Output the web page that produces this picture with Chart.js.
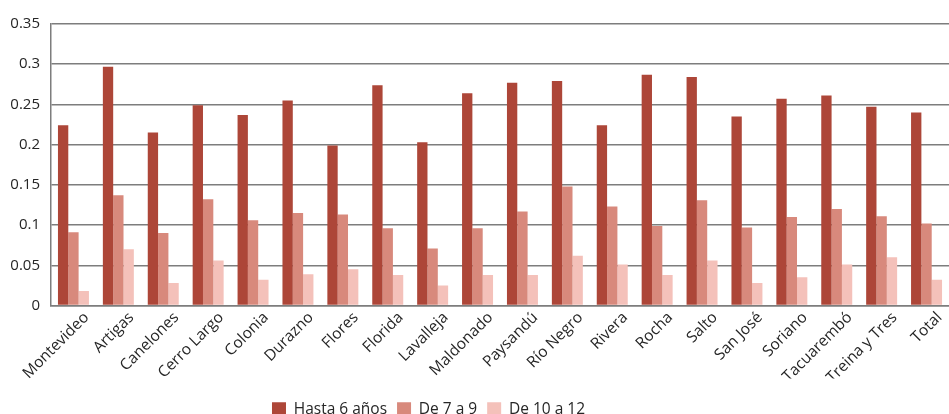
<!DOCTYPE html>
<html>
<head>
<meta charset="utf-8">
<script src="https://cdn.jsdelivr.net/npm/chart.js@4/dist/chart.umd.min.js"></script>
<style>
  html, body { margin: 0; padding: 0; background: #fff; }
  #wrap { width: 949px; height: 414px; position: relative; }
</style>
</head>
<body>
<div id="wrap"><canvas id="chart"></canvas></div>
<script>
// departamentos
const categories = ['Montevideo', 'Artigas', 'Canelones', 'Cerro Largo', 'Colonia', 'Durazno',
  'Flores', 'Florida', 'Lavalleja', 'Maldonado', 'Paysandú', 'Río Negro', 'Rivera', 'Rocha',
  'Salto', 'San José', 'Soriano', 'Tacuarembó', 'Treina y Tres', 'Total'];

const hasta6 = [0.224, 0.297, 0.215, 0.249, 0.237, 0.255, 0.199, 0.274, 0.203, 0.264,
  0.277, 0.279, 0.224, 0.287, 0.284, 0.235, 0.257, 0.261, 0.247, 0.240];
const de7a9 = [0.091, 0.137, 0.090, 0.132, 0.106, 0.115, 0.113, 0.096, 0.071, 0.096,
  0.117, 0.148, 0.123, 0.099, 0.131, 0.097, 0.110, 0.120, 0.111, 0.102];
const de10a12 = [0.018, 0.070, 0.028, 0.056, 0.032, 0.039, 0.045, 0.038, 0.025, 0.038,
  0.038, 0.062, 0.051, 0.038, 0.056, 0.028, 0.035, 0.051, 0.060, 0.032];

const seriesNames = ['Hasta 6 años', 'De 7 a 9', 'De 10 a 12'];

const textColor = '#262626';
const gridColor = '#7d7d7d';
const family = "'Open Sans', 'Noto Sans', sans-serif";

// move the legend a bit left and down, like the original
const legendShift = {
  id: 'legendShift',
  afterLayout(chart) {
    const lg = chart.legend;
    if (!lg) return;
    lg.left -= 46; lg.right -= 46;
    lg.top += 13; lg.bottom += 13;
  }
};

new Chart(document.getElementById('chart'), {
  type: 'bar',
  data: {
    labels: categories,
    datasets: [
      { label: seriesNames[0], data: hasta6, backgroundColor: '#ad4638' },
      { label: seriesNames[1], data: de7a9, backgroundColor: '#d8897c' },
      { label: seriesNames[2], data: de10a12, backgroundColor: '#f4c1ba' }
    ]
  },
  options: {
    responsive: true,
    maintainAspectRatio: false,
    animation: false,
    layout: { padding: { top: 24, right: 0, left: 0, bottom: 0 } },
    datasets: {
      bar: { categoryPercentage: 0.69, barPercentage: 1.0 }
    },
    scales: {
      x: {
        grid: { display: false, drawTicks: false },
        border: { color: gridColor, width: 1.5 },
        ticks: {
          color: textColor,
          font: { family: family, size: 15.5 },
          minRotation: 45,
          maxRotation: 45,
          autoSkip: false,
          padding: 3,
          labelOffset: 13
        },
        afterFit: s => { s.height = 73; }
      },
      y: {
        min: 0,
        max: 0.35,
        grid: { color: gridColor, lineWidth: 1.5, drawTicks: false },
        border: { color: gridColor, width: 1.5 },
        ticks: {
          stepSize: 0.05,
          color: textColor,
          font: { family: family, size: 15 },
          padding: 11,
          callback: v => String(Math.round(v * 100) / 100)
        },
        afterFit: s => { s.width = 51; }
      }
    },
    plugins: {
      legend: {
        position: 'bottom',
        labels: {
          color: textColor,
          font: { family: family, size: 15.5 },
          boxWidth: 14,
          boxHeight: 14,
          padding: 10
        }
      },
      tooltip: { enabled: false }
    }
  },
  plugins: [legendShift]
});
</script>
</body>
</html>
